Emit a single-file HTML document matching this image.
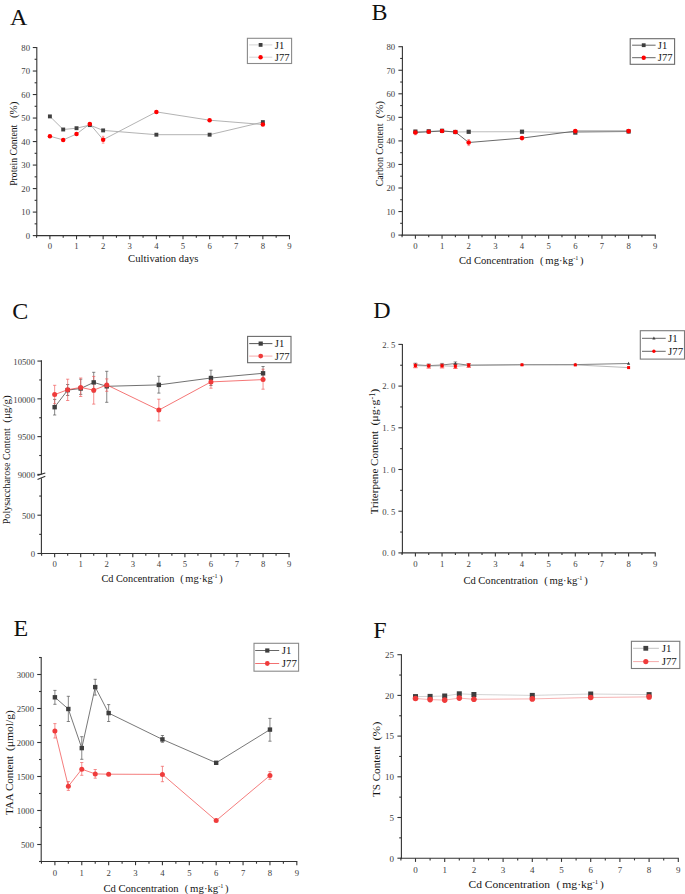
<!DOCTYPE html>
<html><head><meta charset="utf-8"><style>
html,body{margin:0;padding:0;background:#fff;}
body{width:685px;height:894px;overflow:hidden;font-family:"Liberation Serif",serif;}
svg{display:block;}
</style></head><body>
<svg width="685" height="894" viewBox="0 0 685 894" font-family="'Liberation Serif', serif">
<rect width="685" height="894" fill="#fff"/>
<text x="10.1" y="24.6" font-size="24" text-anchor="start" fill="#111" >A</text>
<line x1="36.09" y1="235.6" x2="289.98" y2="235.6" stroke="#333333" stroke-width="1.1" />
<line x1="49.9" y1="235.6" x2="49.9" y2="239.3" stroke="#333333" stroke-width="1.1" />
<text x="49.9" y="248.8" font-size="8.7" text-anchor="middle" fill="#404040" >0</text>
<line x1="76.52" y1="235.6" x2="76.52" y2="239.3" stroke="#333333" stroke-width="1.1" />
<text x="76.52" y="248.8" font-size="8.7" text-anchor="middle" fill="#404040" >1</text>
<line x1="103.14" y1="235.6" x2="103.14" y2="239.3" stroke="#333333" stroke-width="1.1" />
<text x="103.14" y="248.8" font-size="8.7" text-anchor="middle" fill="#404040" >2</text>
<line x1="129.76" y1="235.6" x2="129.76" y2="239.3" stroke="#333333" stroke-width="1.1" />
<text x="129.76" y="248.8" font-size="8.7" text-anchor="middle" fill="#404040" >3</text>
<line x1="156.38" y1="235.6" x2="156.38" y2="239.3" stroke="#333333" stroke-width="1.1" />
<text x="156.38" y="248.8" font-size="8.7" text-anchor="middle" fill="#404040" >4</text>
<line x1="183" y1="235.6" x2="183" y2="239.3" stroke="#333333" stroke-width="1.1" />
<text x="183" y="248.8" font-size="8.7" text-anchor="middle" fill="#404040" >5</text>
<line x1="209.62" y1="235.6" x2="209.62" y2="239.3" stroke="#333333" stroke-width="1.1" />
<text x="209.62" y="248.8" font-size="8.7" text-anchor="middle" fill="#404040" >6</text>
<line x1="236.24" y1="235.6" x2="236.24" y2="239.3" stroke="#333333" stroke-width="1.1" />
<text x="236.24" y="248.8" font-size="8.7" text-anchor="middle" fill="#404040" >7</text>
<line x1="262.86" y1="235.6" x2="262.86" y2="239.3" stroke="#333333" stroke-width="1.1" />
<text x="262.86" y="248.8" font-size="8.7" text-anchor="middle" fill="#404040" >8</text>
<line x1="289.48" y1="235.6" x2="289.48" y2="239.3" stroke="#333333" stroke-width="1.1" />
<text x="289.48" y="248.8" font-size="8.7" text-anchor="middle" fill="#404040" >9</text>
<line x1="36.59" y1="235.6" x2="36.59" y2="237.8" stroke="#333333" stroke-width="1.1" />
<line x1="63.21" y1="235.6" x2="63.21" y2="237.8" stroke="#333333" stroke-width="1.1" />
<line x1="89.83" y1="235.6" x2="89.83" y2="237.8" stroke="#333333" stroke-width="1.1" />
<line x1="116.45" y1="235.6" x2="116.45" y2="237.8" stroke="#333333" stroke-width="1.1" />
<line x1="143.07" y1="235.6" x2="143.07" y2="237.8" stroke="#333333" stroke-width="1.1" />
<line x1="169.69" y1="235.6" x2="169.69" y2="237.8" stroke="#333333" stroke-width="1.1" />
<line x1="196.31" y1="235.6" x2="196.31" y2="237.8" stroke="#333333" stroke-width="1.1" />
<line x1="222.93" y1="235.6" x2="222.93" y2="237.8" stroke="#333333" stroke-width="1.1" />
<line x1="249.55" y1="235.6" x2="249.55" y2="237.8" stroke="#333333" stroke-width="1.1" />
<line x1="276.17" y1="235.6" x2="276.17" y2="237.8" stroke="#333333" stroke-width="1.1" />
<line x1="36.8" y1="47.02" x2="36.8" y2="236.1" stroke="#333333" stroke-width="1.1" />
<line x1="32.8" y1="235.6" x2="36.8" y2="235.6" stroke="#333333" stroke-width="1.1" />
<text x="30" y="238.9" font-size="8.7" text-anchor="end" fill="#404040" >0</text>
<line x1="32.8" y1="212.09" x2="36.8" y2="212.09" stroke="#333333" stroke-width="1.1" />
<text x="30" y="215.39" font-size="8.7" text-anchor="end" fill="#404040" >10</text>
<line x1="32.8" y1="188.58" x2="36.8" y2="188.58" stroke="#333333" stroke-width="1.1" />
<text x="30" y="191.88" font-size="8.7" text-anchor="end" fill="#404040" >20</text>
<line x1="32.8" y1="165.07" x2="36.8" y2="165.07" stroke="#333333" stroke-width="1.1" />
<text x="30" y="168.37" font-size="8.7" text-anchor="end" fill="#404040" >30</text>
<line x1="32.8" y1="141.56" x2="36.8" y2="141.56" stroke="#333333" stroke-width="1.1" />
<text x="30" y="144.86" font-size="8.7" text-anchor="end" fill="#404040" >40</text>
<line x1="32.8" y1="118.05" x2="36.8" y2="118.05" stroke="#333333" stroke-width="1.1" />
<text x="30" y="121.35" font-size="8.7" text-anchor="end" fill="#404040" >50</text>
<line x1="32.8" y1="94.54" x2="36.8" y2="94.54" stroke="#333333" stroke-width="1.1" />
<text x="30" y="97.84" font-size="8.7" text-anchor="end" fill="#404040" >60</text>
<line x1="32.8" y1="71.03" x2="36.8" y2="71.03" stroke="#333333" stroke-width="1.1" />
<text x="30" y="74.33" font-size="8.7" text-anchor="end" fill="#404040" >70</text>
<line x1="32.8" y1="47.52" x2="36.8" y2="47.52" stroke="#333333" stroke-width="1.1" />
<text x="30" y="50.82" font-size="8.7" text-anchor="end" fill="#404040" >80</text>
<line x1="34.6" y1="223.84" x2="36.8" y2="223.84" stroke="#333333" stroke-width="1.1" />
<line x1="34.6" y1="200.33" x2="36.8" y2="200.33" stroke="#333333" stroke-width="1.1" />
<line x1="34.6" y1="176.82" x2="36.8" y2="176.82" stroke="#333333" stroke-width="1.1" />
<line x1="34.6" y1="153.31" x2="36.8" y2="153.31" stroke="#333333" stroke-width="1.1" />
<line x1="34.6" y1="129.81" x2="36.8" y2="129.81" stroke="#333333" stroke-width="1.1" />
<line x1="34.6" y1="106.29" x2="36.8" y2="106.29" stroke="#333333" stroke-width="1.1" />
<line x1="34.6" y1="82.78" x2="36.8" y2="82.78" stroke="#333333" stroke-width="1.1" />
<line x1="34.6" y1="59.28" x2="36.8" y2="59.28" stroke="#333333" stroke-width="1.1" />
<path d="M49.9 116.4 L63.21 129.5 L76.52 128.2 L89.83 125.1 L103.14 130.4 L156.38 134.7 L209.62 134.7 L262.86 122.1" fill="none" stroke="#aaaaaa" stroke-width="0.9"/>
<path d="M49.9 136.2 L63.21 139.9 L76.52 134 L89.83 123.9 L103.14 139.7 L156.38 111.9 L209.62 120.2 L262.86 124.5" fill="none" stroke="#aaaaaa" stroke-width="0.9"/>
<line x1="103.14" y1="136.3" x2="103.14" y2="143.2" stroke="#ff6060" stroke-width="0.6" />
<line x1="101.84" y1="136.3" x2="104.44" y2="136.3" stroke="#ff6060" stroke-width="0.6" />
<line x1="101.84" y1="143.2" x2="104.44" y2="143.2" stroke="#ff6060" stroke-width="0.6" />
<rect x="47.95" y="114.45" width="3.9" height="3.9" fill="#404040"/>
<rect x="61.26" y="127.55" width="3.9" height="3.9" fill="#404040"/>
<rect x="74.57" y="126.25" width="3.9" height="3.9" fill="#404040"/>
<rect x="87.88" y="123.15" width="3.9" height="3.9" fill="#404040"/>
<rect x="101.19" y="128.45" width="3.9" height="3.9" fill="#404040"/>
<rect x="154.43" y="132.75" width="3.9" height="3.9" fill="#404040"/>
<rect x="207.67" y="132.75" width="3.9" height="3.9" fill="#404040"/>
<rect x="260.91" y="120.15" width="3.9" height="3.9" fill="#404040"/>
<circle cx="49.9" cy="136.2" r="2.25" fill="#ff0000"/>
<circle cx="63.21" cy="139.9" r="2.25" fill="#ff0000"/>
<circle cx="76.52" cy="134" r="2.25" fill="#ff0000"/>
<circle cx="89.83" cy="123.9" r="2.25" fill="#ff0000"/>
<circle cx="103.14" cy="139.7" r="2.25" fill="#ff0000"/>
<circle cx="156.38" cy="111.9" r="2.25" fill="#ff0000"/>
<circle cx="209.62" cy="120.2" r="2.25" fill="#ff0000"/>
<circle cx="262.86" cy="124.5" r="2.25" fill="#ff0000"/>
<text x="0" y="0" font-size="10.4" fill="#141414" transform="translate(16.9,185.8) rotate(-90)" textLength="61" lengthAdjust="spacingAndGlyphs">Protein Content</text>
<text x="0" y="0" font-size="10.4" fill="#141414" transform="translate(16.9,118.1) rotate(-90)" textLength="16.4" lengthAdjust="spacingAndGlyphs">(%)</text>
<text x="128.1" y="261.8" font-size="10.6" fill="#141414" textLength="70.3" lengthAdjust="spacingAndGlyphs">Cultivation days</text>
<rect x="247.4" y="38.3" width="44.2" height="25.2" fill="#fff" stroke="#8a8a8a" stroke-width="1.1"/>
<line x1="249.2" y1="44.9" x2="272.3" y2="44.9" stroke="#cfcfcf" stroke-width="0.9" />
<rect x="258.7" y="43" width="3.8" height="3.8" fill="#3e3e3e"/>
<text x="274.8" y="48.5" font-size="10.6" text-anchor="start" fill="#141414" >J1</text>
<line x1="249.2" y1="57.2" x2="272.3" y2="57.2" stroke="#cfcfcf" stroke-width="0.9" />
<circle cx="260.6" cy="57.2" r="2.2" fill="#ff0000"/>
<text x="274.8" y="60.8" font-size="10.6" text-anchor="start" fill="#141414" >J77</text>
<text x="371.6" y="20.3" font-size="24" text-anchor="start" fill="#111" >B</text>
<line x1="401.57" y1="235.1" x2="655.75" y2="235.1" stroke="#333333" stroke-width="1.1" />
<line x1="415.4" y1="235.1" x2="415.4" y2="238.8" stroke="#333333" stroke-width="1.1" />
<text x="415.4" y="248.8" font-size="8.7" text-anchor="middle" fill="#404040" >0</text>
<line x1="442.05" y1="235.1" x2="442.05" y2="238.8" stroke="#333333" stroke-width="1.1" />
<text x="442.05" y="248.8" font-size="8.7" text-anchor="middle" fill="#404040" >1</text>
<line x1="468.7" y1="235.1" x2="468.7" y2="238.8" stroke="#333333" stroke-width="1.1" />
<text x="468.7" y="248.8" font-size="8.7" text-anchor="middle" fill="#404040" >2</text>
<line x1="495.35" y1="235.1" x2="495.35" y2="238.8" stroke="#333333" stroke-width="1.1" />
<text x="495.35" y="248.8" font-size="8.7" text-anchor="middle" fill="#404040" >3</text>
<line x1="522" y1="235.1" x2="522" y2="238.8" stroke="#333333" stroke-width="1.1" />
<text x="522" y="248.8" font-size="8.7" text-anchor="middle" fill="#404040" >4</text>
<line x1="548.65" y1="235.1" x2="548.65" y2="238.8" stroke="#333333" stroke-width="1.1" />
<text x="548.65" y="248.8" font-size="8.7" text-anchor="middle" fill="#404040" >5</text>
<line x1="575.3" y1="235.1" x2="575.3" y2="238.8" stroke="#333333" stroke-width="1.1" />
<text x="575.3" y="248.8" font-size="8.7" text-anchor="middle" fill="#404040" >6</text>
<line x1="601.95" y1="235.1" x2="601.95" y2="238.8" stroke="#333333" stroke-width="1.1" />
<text x="601.95" y="248.8" font-size="8.7" text-anchor="middle" fill="#404040" >7</text>
<line x1="628.6" y1="235.1" x2="628.6" y2="238.8" stroke="#333333" stroke-width="1.1" />
<text x="628.6" y="248.8" font-size="8.7" text-anchor="middle" fill="#404040" >8</text>
<line x1="655.25" y1="235.1" x2="655.25" y2="238.8" stroke="#333333" stroke-width="1.1" />
<text x="655.25" y="248.8" font-size="8.7" text-anchor="middle" fill="#404040" >9</text>
<line x1="402.07" y1="235.1" x2="402.07" y2="237.3" stroke="#333333" stroke-width="1.1" />
<line x1="428.72" y1="235.1" x2="428.72" y2="237.3" stroke="#333333" stroke-width="1.1" />
<line x1="455.38" y1="235.1" x2="455.38" y2="237.3" stroke="#333333" stroke-width="1.1" />
<line x1="482.02" y1="235.1" x2="482.02" y2="237.3" stroke="#333333" stroke-width="1.1" />
<line x1="508.67" y1="235.1" x2="508.67" y2="237.3" stroke="#333333" stroke-width="1.1" />
<line x1="535.32" y1="235.1" x2="535.32" y2="237.3" stroke="#333333" stroke-width="1.1" />
<line x1="561.97" y1="235.1" x2="561.97" y2="237.3" stroke="#333333" stroke-width="1.1" />
<line x1="588.62" y1="235.1" x2="588.62" y2="237.3" stroke="#333333" stroke-width="1.1" />
<line x1="615.27" y1="235.1" x2="615.27" y2="237.3" stroke="#333333" stroke-width="1.1" />
<line x1="641.92" y1="235.1" x2="641.92" y2="237.3" stroke="#333333" stroke-width="1.1" />
<line x1="402.4" y1="46.2" x2="402.4" y2="235.6" stroke="#333333" stroke-width="1.1" />
<line x1="398.4" y1="235.1" x2="402.4" y2="235.1" stroke="#333333" stroke-width="1.1" />
<text x="395.1" y="238.4" font-size="8.7" text-anchor="end" fill="#404040" >0</text>
<line x1="398.4" y1="211.55" x2="402.4" y2="211.55" stroke="#333333" stroke-width="1.1" />
<text x="395.1" y="214.85" font-size="8.7" text-anchor="end" fill="#404040" >10</text>
<line x1="398.4" y1="188" x2="402.4" y2="188" stroke="#333333" stroke-width="1.1" />
<text x="395.1" y="191.3" font-size="8.7" text-anchor="end" fill="#404040" >20</text>
<line x1="398.4" y1="164.45" x2="402.4" y2="164.45" stroke="#333333" stroke-width="1.1" />
<text x="395.1" y="167.75" font-size="8.7" text-anchor="end" fill="#404040" >30</text>
<line x1="398.4" y1="140.9" x2="402.4" y2="140.9" stroke="#333333" stroke-width="1.1" />
<text x="395.1" y="144.2" font-size="8.7" text-anchor="end" fill="#404040" >40</text>
<line x1="398.4" y1="117.35" x2="402.4" y2="117.35" stroke="#333333" stroke-width="1.1" />
<text x="395.1" y="120.65" font-size="8.7" text-anchor="end" fill="#404040" >50</text>
<line x1="398.4" y1="93.8" x2="402.4" y2="93.8" stroke="#333333" stroke-width="1.1" />
<text x="395.1" y="97.1" font-size="8.7" text-anchor="end" fill="#404040" >60</text>
<line x1="398.4" y1="70.25" x2="402.4" y2="70.25" stroke="#333333" stroke-width="1.1" />
<text x="395.1" y="73.55" font-size="8.7" text-anchor="end" fill="#404040" >70</text>
<line x1="398.4" y1="46.7" x2="402.4" y2="46.7" stroke="#333333" stroke-width="1.1" />
<text x="395.1" y="50" font-size="8.7" text-anchor="end" fill="#404040" >80</text>
<line x1="400.2" y1="223.32" x2="402.4" y2="223.32" stroke="#333333" stroke-width="1.1" />
<line x1="400.2" y1="199.77" x2="402.4" y2="199.77" stroke="#333333" stroke-width="1.1" />
<line x1="400.2" y1="176.22" x2="402.4" y2="176.22" stroke="#333333" stroke-width="1.1" />
<line x1="400.2" y1="152.68" x2="402.4" y2="152.68" stroke="#333333" stroke-width="1.1" />
<line x1="400.2" y1="129.12" x2="402.4" y2="129.12" stroke="#333333" stroke-width="1.1" />
<line x1="400.2" y1="105.57" x2="402.4" y2="105.57" stroke="#333333" stroke-width="1.1" />
<line x1="400.2" y1="82.03" x2="402.4" y2="82.03" stroke="#333333" stroke-width="1.1" />
<line x1="400.2" y1="58.47" x2="402.4" y2="58.47" stroke="#333333" stroke-width="1.1" />
<path d="M415.4 131.6 L428.72 131.3 L442.05 130.8 L455.38 132 L468.7 131.8 L522 131.7 L575.3 132.6 L628.6 131.5" fill="none" stroke="#bcbcbc" stroke-width="1.0"/>
<path d="M415.4 132.5 L428.72 131.8 L442.05 131 L455.38 132 L468.7 142.5 L522 138.1 L575.3 131.1 L628.6 131.1" fill="none" stroke="#5a5a5a" stroke-width="0.9"/>
<line x1="415.4" y1="130.2" x2="415.4" y2="134.8" stroke="#ff6060" stroke-width="0.6" />
<line x1="414.1" y1="130.2" x2="416.7" y2="130.2" stroke="#ff6060" stroke-width="0.6" />
<line x1="414.1" y1="134.8" x2="416.7" y2="134.8" stroke="#ff6060" stroke-width="0.6" />
<line x1="468.7" y1="139.5" x2="468.7" y2="145.6" stroke="#ff6060" stroke-width="0.6" />
<line x1="467.4" y1="139.5" x2="470" y2="139.5" stroke="#ff6060" stroke-width="0.6" />
<line x1="467.4" y1="145.6" x2="470" y2="145.6" stroke="#ff6060" stroke-width="0.6" />
<rect x="413.3" y="129.5" width="4.2" height="4.2" fill="#404040"/>
<rect x="426.62" y="129.2" width="4.2" height="4.2" fill="#404040"/>
<rect x="439.95" y="128.7" width="4.2" height="4.2" fill="#404040"/>
<rect x="453.27" y="129.9" width="4.2" height="4.2" fill="#404040"/>
<rect x="466.6" y="129.7" width="4.2" height="4.2" fill="#404040"/>
<rect x="519.9" y="129.6" width="4.2" height="4.2" fill="#404040"/>
<rect x="573.2" y="130.5" width="4.2" height="4.2" fill="#404040"/>
<rect x="626.5" y="129.4" width="4.2" height="4.2" fill="#404040"/>
<circle cx="415.4" cy="132.5" r="2.3" fill="#ff0000"/>
<circle cx="428.72" cy="131.8" r="2.3" fill="#ff0000"/>
<circle cx="442.05" cy="131" r="2.3" fill="#ff0000"/>
<circle cx="455.38" cy="132" r="2.3" fill="#ff0000"/>
<circle cx="468.7" cy="142.5" r="2.3" fill="#ff0000"/>
<circle cx="522" cy="138.1" r="2.3" fill="#ff0000"/>
<circle cx="575.3" cy="131.1" r="2.3" fill="#ff0000"/>
<circle cx="628.6" cy="131.1" r="2.3" fill="#ff0000"/>
<text x="0" y="0" font-size="10.4" fill="#141414" transform="translate(382.7,186.2) rotate(-90)" textLength="62.7" lengthAdjust="spacingAndGlyphs">Carbon Content</text>
<text x="0" y="0" font-size="10.4" fill="#141414" transform="translate(382.7,118.2) rotate(-90)" textLength="17.4" lengthAdjust="spacingAndGlyphs">(%)</text>
<text x="459" y="263.9" font-size="10.5" fill="#141414" textLength="74.9" lengthAdjust="spacingAndGlyphs">Cd Concentration</text>
<text x="540" y="263.9" font-size="10.5" fill="#141414">(</text>
<text x="545.3" y="263.9" font-size="10.5" fill="#141414" textLength="28" lengthAdjust="spacingAndGlyphs">mg·kg</text>
<text x="573.2" y="260.2" font-size="6.2" fill="#141414">-1</text>
<text x="580.1" y="263.9" font-size="10.5" fill="#141414">)</text>
<rect x="630.2" y="38.7" width="44.4" height="25.6" fill="#fff" stroke="#6a6a6a" stroke-width="1.1"/>
<line x1="632.1" y1="45.2" x2="655.6" y2="45.2" stroke="#555" stroke-width="0.9" />
<rect x="641.8" y="43.3" width="3.8" height="3.8" fill="#3e3e3e"/>
<text x="657.8" y="48.8" font-size="10.6" text-anchor="start" fill="#141414" >J1</text>
<line x1="632.1" y1="57.7" x2="655.6" y2="57.7" stroke="#555" stroke-width="0.9" />
<circle cx="643.7" cy="57.7" r="2.2" fill="#ff0000"/>
<text x="657.8" y="61.3" font-size="10.6" text-anchor="start" fill="#141414" >J77</text>
<text x="12.2" y="319.1" font-size="24" text-anchor="start" fill="#111" >C</text>
<line x1="41.12" y1="553.5" x2="289.6" y2="553.5" stroke="#333333" stroke-width="1.1" />
<line x1="54.65" y1="553.5" x2="54.65" y2="557.2" stroke="#333333" stroke-width="1.1" />
<text x="54.65" y="566.7" font-size="8.7" text-anchor="middle" fill="#404040" >0</text>
<line x1="80.7" y1="553.5" x2="80.7" y2="557.2" stroke="#333333" stroke-width="1.1" />
<text x="80.7" y="566.7" font-size="8.7" text-anchor="middle" fill="#404040" >1</text>
<line x1="106.75" y1="553.5" x2="106.75" y2="557.2" stroke="#333333" stroke-width="1.1" />
<text x="106.75" y="566.7" font-size="8.7" text-anchor="middle" fill="#404040" >2</text>
<line x1="132.8" y1="553.5" x2="132.8" y2="557.2" stroke="#333333" stroke-width="1.1" />
<text x="132.8" y="566.7" font-size="8.7" text-anchor="middle" fill="#404040" >3</text>
<line x1="158.85" y1="553.5" x2="158.85" y2="557.2" stroke="#333333" stroke-width="1.1" />
<text x="158.85" y="566.7" font-size="8.7" text-anchor="middle" fill="#404040" >4</text>
<line x1="184.9" y1="553.5" x2="184.9" y2="557.2" stroke="#333333" stroke-width="1.1" />
<text x="184.9" y="566.7" font-size="8.7" text-anchor="middle" fill="#404040" >5</text>
<line x1="210.95" y1="553.5" x2="210.95" y2="557.2" stroke="#333333" stroke-width="1.1" />
<text x="210.95" y="566.7" font-size="8.7" text-anchor="middle" fill="#404040" >6</text>
<line x1="237" y1="553.5" x2="237" y2="557.2" stroke="#333333" stroke-width="1.1" />
<text x="237" y="566.7" font-size="8.7" text-anchor="middle" fill="#404040" >7</text>
<line x1="263.05" y1="553.5" x2="263.05" y2="557.2" stroke="#333333" stroke-width="1.1" />
<text x="263.05" y="566.7" font-size="8.7" text-anchor="middle" fill="#404040" >8</text>
<line x1="289.1" y1="553.5" x2="289.1" y2="557.2" stroke="#333333" stroke-width="1.1" />
<text x="289.1" y="566.7" font-size="8.7" text-anchor="middle" fill="#404040" >9</text>
<line x1="41.62" y1="553.5" x2="41.62" y2="555.7" stroke="#333333" stroke-width="1.1" />
<line x1="67.67" y1="553.5" x2="67.67" y2="555.7" stroke="#333333" stroke-width="1.1" />
<line x1="93.72" y1="553.5" x2="93.72" y2="555.7" stroke="#333333" stroke-width="1.1" />
<line x1="119.78" y1="553.5" x2="119.78" y2="555.7" stroke="#333333" stroke-width="1.1" />
<line x1="145.82" y1="553.5" x2="145.82" y2="555.7" stroke="#333333" stroke-width="1.1" />
<line x1="171.88" y1="553.5" x2="171.88" y2="555.7" stroke="#333333" stroke-width="1.1" />
<line x1="197.93" y1="553.5" x2="197.93" y2="555.7" stroke="#333333" stroke-width="1.1" />
<line x1="223.98" y1="553.5" x2="223.98" y2="555.7" stroke="#333333" stroke-width="1.1" />
<line x1="250.03" y1="553.5" x2="250.03" y2="555.7" stroke="#333333" stroke-width="1.1" />
<line x1="276.07" y1="553.5" x2="276.07" y2="555.7" stroke="#333333" stroke-width="1.1" />
<line x1="41.4" y1="360.6" x2="41.4" y2="361.6" stroke="#333333" stroke-width="1.1" />
<line x1="37.4" y1="474.4" x2="41.4" y2="474.4" stroke="#333333" stroke-width="1.1" />
<text x="35" y="478.1" font-size="8.7" text-anchor="end" fill="#404040" >9000</text>
<line x1="37.4" y1="436.62" x2="41.4" y2="436.62" stroke="#333333" stroke-width="1.1" />
<text x="35" y="440.32" font-size="8.7" text-anchor="end" fill="#404040" >9500</text>
<line x1="37.4" y1="398.85" x2="41.4" y2="398.85" stroke="#333333" stroke-width="1.1" />
<text x="35" y="402.55" font-size="8.7" text-anchor="end" fill="#404040" >10000</text>
<line x1="37.4" y1="361.07" x2="41.4" y2="361.07" stroke="#333333" stroke-width="1.1" />
<text x="35" y="364.77" font-size="8.7" text-anchor="end" fill="#404040" >10500</text>
<line x1="37.4" y1="553.5" x2="41.4" y2="553.5" stroke="#333333" stroke-width="1.1" />
<text x="35" y="557.2" font-size="8.7" text-anchor="end" fill="#404040" >0</text>
<line x1="37.4" y1="515.2" x2="41.4" y2="515.2" stroke="#333333" stroke-width="1.1" />
<text x="35" y="518.9" font-size="8.7" text-anchor="end" fill="#404040" >500</text>
<line x1="39.2" y1="455.51" x2="41.4" y2="455.51" stroke="#333333" stroke-width="1.1" />
<line x1="39.2" y1="417.74" x2="41.4" y2="417.74" stroke="#333333" stroke-width="1.1" />
<line x1="39.2" y1="379.96" x2="41.4" y2="379.96" stroke="#333333" stroke-width="1.1" />
<line x1="39.2" y1="534.35" x2="41.4" y2="534.35" stroke="#333333" stroke-width="1.1" />
<line x1="39.2" y1="496.05" x2="41.4" y2="496.05" stroke="#333333" stroke-width="1.1" />
<line x1="41.4" y1="360.6" x2="41.4" y2="473.9" stroke="#333333" stroke-width="1.1" />
<line x1="41.4" y1="478.3" x2="41.4" y2="554" stroke="#333333" stroke-width="1.1" />
<line x1="37.5" y1="475.4" x2="45.3" y2="473" stroke="#333333" stroke-width="1.1" />
<line x1="37.5" y1="479.6" x2="45.3" y2="476.3" stroke="#333333" stroke-width="1.1" />
<line x1="54.65" y1="399.4" x2="54.65" y2="415" stroke="#555" stroke-width="0.7" />
<line x1="53.05" y1="399.4" x2="56.25" y2="399.4" stroke="#555" stroke-width="0.7" />
<line x1="53.05" y1="415" x2="56.25" y2="415" stroke="#555" stroke-width="0.7" />
<line x1="67.67" y1="384.5" x2="67.67" y2="395.5" stroke="#555" stroke-width="0.7" />
<line x1="66.08" y1="384.5" x2="69.27" y2="384.5" stroke="#555" stroke-width="0.7" />
<line x1="66.08" y1="395.5" x2="69.27" y2="395.5" stroke="#555" stroke-width="0.7" />
<line x1="80.7" y1="379.2" x2="80.7" y2="394.4" stroke="#555" stroke-width="0.7" />
<line x1="79.1" y1="379.2" x2="82.3" y2="379.2" stroke="#555" stroke-width="0.7" />
<line x1="79.1" y1="394.4" x2="82.3" y2="394.4" stroke="#555" stroke-width="0.7" />
<line x1="93.72" y1="372.3" x2="93.72" y2="392" stroke="#555" stroke-width="0.7" />
<line x1="92.12" y1="372.3" x2="95.32" y2="372.3" stroke="#555" stroke-width="0.7" />
<line x1="92.12" y1="392" x2="95.32" y2="392" stroke="#555" stroke-width="0.7" />
<line x1="106.75" y1="371.3" x2="106.75" y2="402.3" stroke="#555" stroke-width="0.7" />
<line x1="105.15" y1="371.3" x2="108.35" y2="371.3" stroke="#555" stroke-width="0.7" />
<line x1="105.15" y1="402.3" x2="108.35" y2="402.3" stroke="#555" stroke-width="0.7" />
<line x1="158.85" y1="376.3" x2="158.85" y2="393.1" stroke="#555" stroke-width="0.7" />
<line x1="157.25" y1="376.3" x2="160.45" y2="376.3" stroke="#555" stroke-width="0.7" />
<line x1="157.25" y1="393.1" x2="160.45" y2="393.1" stroke="#555" stroke-width="0.7" />
<line x1="210.95" y1="370.2" x2="210.95" y2="385.5" stroke="#555" stroke-width="0.7" />
<line x1="209.35" y1="370.2" x2="212.55" y2="370.2" stroke="#555" stroke-width="0.7" />
<line x1="209.35" y1="385.5" x2="212.55" y2="385.5" stroke="#555" stroke-width="0.7" />
<line x1="263.05" y1="366.5" x2="263.05" y2="380" stroke="#555" stroke-width="0.7" />
<line x1="261.45" y1="366.5" x2="264.65" y2="366.5" stroke="#555" stroke-width="0.7" />
<line x1="261.45" y1="380" x2="264.65" y2="380" stroke="#555" stroke-width="0.7" />
<line x1="54.65" y1="385.3" x2="54.65" y2="403.7" stroke="#f06060" stroke-width="0.7" />
<line x1="53.05" y1="385.3" x2="56.25" y2="385.3" stroke="#f06060" stroke-width="0.7" />
<line x1="53.05" y1="403.7" x2="56.25" y2="403.7" stroke="#f06060" stroke-width="0.7" />
<line x1="67.67" y1="379.2" x2="67.67" y2="400.5" stroke="#f06060" stroke-width="0.7" />
<line x1="66.08" y1="379.2" x2="69.27" y2="379.2" stroke="#f06060" stroke-width="0.7" />
<line x1="66.08" y1="400.5" x2="69.27" y2="400.5" stroke="#f06060" stroke-width="0.7" />
<line x1="80.7" y1="378" x2="80.7" y2="396.5" stroke="#f06060" stroke-width="0.7" />
<line x1="79.1" y1="378" x2="82.3" y2="378" stroke="#f06060" stroke-width="0.7" />
<line x1="79.1" y1="396.5" x2="82.3" y2="396.5" stroke="#f06060" stroke-width="0.7" />
<line x1="93.72" y1="376.4" x2="93.72" y2="404.1" stroke="#f06060" stroke-width="0.7" />
<line x1="92.12" y1="376.4" x2="95.32" y2="376.4" stroke="#f06060" stroke-width="0.7" />
<line x1="92.12" y1="404.1" x2="95.32" y2="404.1" stroke="#f06060" stroke-width="0.7" />
<line x1="106.75" y1="378.9" x2="106.75" y2="391.3" stroke="#f06060" stroke-width="0.7" />
<line x1="105.15" y1="378.9" x2="108.35" y2="378.9" stroke="#f06060" stroke-width="0.7" />
<line x1="105.15" y1="391.3" x2="108.35" y2="391.3" stroke="#f06060" stroke-width="0.7" />
<line x1="158.85" y1="399.2" x2="158.85" y2="420.9" stroke="#f06060" stroke-width="0.7" />
<line x1="157.25" y1="399.2" x2="160.45" y2="399.2" stroke="#f06060" stroke-width="0.7" />
<line x1="157.25" y1="420.9" x2="160.45" y2="420.9" stroke="#f06060" stroke-width="0.7" />
<line x1="210.95" y1="379.8" x2="210.95" y2="388.2" stroke="#f06060" stroke-width="0.7" />
<line x1="209.35" y1="379.8" x2="212.55" y2="379.8" stroke="#f06060" stroke-width="0.7" />
<line x1="209.35" y1="388.2" x2="212.55" y2="388.2" stroke="#f06060" stroke-width="0.7" />
<line x1="263.05" y1="369.2" x2="263.05" y2="389.2" stroke="#f06060" stroke-width="0.7" />
<line x1="261.45" y1="369.2" x2="264.65" y2="369.2" stroke="#f06060" stroke-width="0.7" />
<line x1="261.45" y1="389.2" x2="264.65" y2="389.2" stroke="#f06060" stroke-width="0.7" />
<path d="M54.65 407.2 L67.67 390.1 L80.7 388.5 L93.72 382.4 L106.75 386.3 L158.85 384.9 L210.95 378 L263.05 373.3" fill="none" stroke="#333" stroke-width="0.7"/>
<path d="M54.65 394.6 L67.67 389.7 L80.7 387.4 L93.72 390.2 L106.75 384.9 L158.85 410.1 L210.95 381.9 L263.05 379.6" fill="none" stroke="#ef3b3b" stroke-width="0.7"/>
<rect x="52.45" y="405" width="4.4" height="4.4" fill="#3e3e3e"/>
<rect x="65.47" y="387.9" width="4.4" height="4.4" fill="#3e3e3e"/>
<rect x="78.5" y="386.3" width="4.4" height="4.4" fill="#3e3e3e"/>
<rect x="91.52" y="380.2" width="4.4" height="4.4" fill="#3e3e3e"/>
<rect x="104.55" y="384.1" width="4.4" height="4.4" fill="#3e3e3e"/>
<rect x="156.65" y="382.7" width="4.4" height="4.4" fill="#3e3e3e"/>
<rect x="208.75" y="375.8" width="4.4" height="4.4" fill="#3e3e3e"/>
<rect x="260.85" y="371.1" width="4.4" height="4.4" fill="#3e3e3e"/>
<circle cx="54.65" cy="394.6" r="2.5" fill="#ef3b3b"/>
<circle cx="67.67" cy="389.7" r="2.5" fill="#ef3b3b"/>
<circle cx="80.7" cy="387.4" r="2.5" fill="#ef3b3b"/>
<circle cx="93.72" cy="390.2" r="2.5" fill="#ef3b3b"/>
<circle cx="106.75" cy="384.9" r="2.5" fill="#ef3b3b"/>
<circle cx="158.85" cy="410.1" r="2.5" fill="#ef3b3b"/>
<circle cx="210.95" cy="381.9" r="2.5" fill="#ef3b3b"/>
<circle cx="263.05" cy="379.6" r="2.5" fill="#ef3b3b"/>
<text x="0" y="0" font-size="10.8" fill="#141414" transform="translate(9.9,524.2) rotate(-90)" textLength="96" lengthAdjust="spacingAndGlyphs">Polysaccharose Content</text>
<text x="0" y="0" font-size="10.8" fill="#141414" transform="translate(9.9,422.8) rotate(-90)" textLength="27.5" lengthAdjust="spacingAndGlyphs">(μg/g)</text>
<text x="101.41" y="581.7" font-size="10.22" fill="#141414" textLength="72.88" lengthAdjust="spacingAndGlyphs">Cd Concentration</text>
<text x="180.22" y="581.7" font-size="10.22" fill="#141414">(</text>
<text x="185.38" y="581.7" font-size="10.22" fill="#141414" textLength="27.24" lengthAdjust="spacingAndGlyphs">mg·kg</text>
<text x="212.53" y="578.1" font-size="6.03" fill="#141414">-1</text>
<text x="219.24" y="581.7" font-size="10.22" fill="#141414">)</text>
<rect x="247.6" y="336.4" width="43.4" height="26.3" fill="#fff" stroke="#6a6a6a" stroke-width="1.1"/>
<line x1="249.2" y1="343.6" x2="272.4" y2="343.6" stroke="#444" stroke-width="0.9" />
<rect x="258.6" y="341.5" width="4.2" height="4.2" fill="#3e3e3e"/>
<text x="274.8" y="347.2" font-size="10.6" text-anchor="start" fill="#141414" >J1</text>
<line x1="249.2" y1="356.1" x2="272.4" y2="356.1" stroke="#f4a0a0" stroke-width="0.9" />
<circle cx="260.7" cy="356.1" r="2.4" fill="#ef3b3b"/>
<text x="274.8" y="359.7" font-size="10.6" text-anchor="start" fill="#141414" >J77</text>
<text x="373.2" y="318.2" font-size="24" text-anchor="start" fill="#111" >D</text>
<line x1="401.57" y1="552.9" x2="655.75" y2="552.9" stroke="#333333" stroke-width="1.1" />
<line x1="415.4" y1="552.9" x2="415.4" y2="556.6" stroke="#333333" stroke-width="1.1" />
<text x="415.4" y="567.3" font-size="8.7" text-anchor="middle" fill="#404040" >0</text>
<line x1="442.05" y1="552.9" x2="442.05" y2="556.6" stroke="#333333" stroke-width="1.1" />
<text x="442.05" y="567.3" font-size="8.7" text-anchor="middle" fill="#404040" >1</text>
<line x1="468.7" y1="552.9" x2="468.7" y2="556.6" stroke="#333333" stroke-width="1.1" />
<text x="468.7" y="567.3" font-size="8.7" text-anchor="middle" fill="#404040" >2</text>
<line x1="495.35" y1="552.9" x2="495.35" y2="556.6" stroke="#333333" stroke-width="1.1" />
<text x="495.35" y="567.3" font-size="8.7" text-anchor="middle" fill="#404040" >3</text>
<line x1="522" y1="552.9" x2="522" y2="556.6" stroke="#333333" stroke-width="1.1" />
<text x="522" y="567.3" font-size="8.7" text-anchor="middle" fill="#404040" >4</text>
<line x1="548.65" y1="552.9" x2="548.65" y2="556.6" stroke="#333333" stroke-width="1.1" />
<text x="548.65" y="567.3" font-size="8.7" text-anchor="middle" fill="#404040" >5</text>
<line x1="575.3" y1="552.9" x2="575.3" y2="556.6" stroke="#333333" stroke-width="1.1" />
<text x="575.3" y="567.3" font-size="8.7" text-anchor="middle" fill="#404040" >6</text>
<line x1="601.95" y1="552.9" x2="601.95" y2="556.6" stroke="#333333" stroke-width="1.1" />
<text x="601.95" y="567.3" font-size="8.7" text-anchor="middle" fill="#404040" >7</text>
<line x1="628.6" y1="552.9" x2="628.6" y2="556.6" stroke="#333333" stroke-width="1.1" />
<text x="628.6" y="567.3" font-size="8.7" text-anchor="middle" fill="#404040" >8</text>
<line x1="655.25" y1="552.9" x2="655.25" y2="556.6" stroke="#333333" stroke-width="1.1" />
<text x="655.25" y="567.3" font-size="8.7" text-anchor="middle" fill="#404040" >9</text>
<line x1="402.07" y1="552.9" x2="402.07" y2="555.1" stroke="#333333" stroke-width="1.1" />
<line x1="428.72" y1="552.9" x2="428.72" y2="555.1" stroke="#333333" stroke-width="1.1" />
<line x1="455.38" y1="552.9" x2="455.38" y2="555.1" stroke="#333333" stroke-width="1.1" />
<line x1="482.02" y1="552.9" x2="482.02" y2="555.1" stroke="#333333" stroke-width="1.1" />
<line x1="508.67" y1="552.9" x2="508.67" y2="555.1" stroke="#333333" stroke-width="1.1" />
<line x1="535.32" y1="552.9" x2="535.32" y2="555.1" stroke="#333333" stroke-width="1.1" />
<line x1="561.97" y1="552.9" x2="561.97" y2="555.1" stroke="#333333" stroke-width="1.1" />
<line x1="588.62" y1="552.9" x2="588.62" y2="555.1" stroke="#333333" stroke-width="1.1" />
<line x1="615.27" y1="552.9" x2="615.27" y2="555.1" stroke="#333333" stroke-width="1.1" />
<line x1="641.92" y1="552.9" x2="641.92" y2="555.1" stroke="#333333" stroke-width="1.1" />
<line x1="402.4" y1="343.9" x2="402.4" y2="553.4" stroke="#333333" stroke-width="1.1" />
<line x1="398.4" y1="552.9" x2="402.4" y2="552.9" stroke="#333333" stroke-width="1.1" />
<text x="395.4" y="556.2" font-size="8.7" text-anchor="end" fill="#404040" >0. 0</text>
<line x1="398.4" y1="511.2" x2="402.4" y2="511.2" stroke="#333333" stroke-width="1.1" />
<text x="395.4" y="514.5" font-size="8.7" text-anchor="end" fill="#404040" >0. 5</text>
<line x1="398.4" y1="469.5" x2="402.4" y2="469.5" stroke="#333333" stroke-width="1.1" />
<text x="395.4" y="472.8" font-size="8.7" text-anchor="end" fill="#404040" >1. 0</text>
<line x1="398.4" y1="427.8" x2="402.4" y2="427.8" stroke="#333333" stroke-width="1.1" />
<text x="395.4" y="431.1" font-size="8.7" text-anchor="end" fill="#404040" >1. 5</text>
<line x1="398.4" y1="386.1" x2="402.4" y2="386.1" stroke="#333333" stroke-width="1.1" />
<text x="395.4" y="389.4" font-size="8.7" text-anchor="end" fill="#404040" >2. 0</text>
<line x1="398.4" y1="344.4" x2="402.4" y2="344.4" stroke="#333333" stroke-width="1.1" />
<text x="395.4" y="347.7" font-size="8.7" text-anchor="end" fill="#404040" >2. 5</text>
<line x1="400.2" y1="532.05" x2="402.4" y2="532.05" stroke="#333333" stroke-width="1.1" />
<line x1="400.2" y1="490.35" x2="402.4" y2="490.35" stroke="#333333" stroke-width="1.1" />
<line x1="400.2" y1="448.65" x2="402.4" y2="448.65" stroke="#333333" stroke-width="1.1" />
<line x1="400.2" y1="406.95" x2="402.4" y2="406.95" stroke="#333333" stroke-width="1.1" />
<line x1="400.2" y1="365.25" x2="402.4" y2="365.25" stroke="#333333" stroke-width="1.1" />
<path d="M415.4 364.8 L428.72 365.6 L442.05 365 L455.38 363.5 L468.7 365.2 L522 364.7 L575.3 364.6 L628.6 363.5" fill="none" stroke="#4a4a4a" stroke-width="0.7"/>
<path d="M415.4 365.6 L428.72 366 L442.05 365.8 L455.38 366.3 L468.7 365.3 L522 364.8 L575.3 364.9 L628.6 367.6" fill="none" stroke="#9a9a9a" stroke-width="0.7"/>
<line x1="415.4" y1="363.2" x2="415.4" y2="365.8" stroke="#555" stroke-width="0.6" />
<line x1="413.6" y1="363.2" x2="417.2" y2="363.2" stroke="#555" stroke-width="0.6" />
<line x1="413.6" y1="365.8" x2="417.2" y2="365.8" stroke="#555" stroke-width="0.6" />
<line x1="428.72" y1="364" x2="428.72" y2="366.6" stroke="#555" stroke-width="0.6" />
<line x1="426.92" y1="364" x2="430.52" y2="364" stroke="#555" stroke-width="0.6" />
<line x1="426.92" y1="366.6" x2="430.52" y2="366.6" stroke="#555" stroke-width="0.6" />
<line x1="442.05" y1="363.4" x2="442.05" y2="366" stroke="#555" stroke-width="0.6" />
<line x1="440.25" y1="363.4" x2="443.85" y2="363.4" stroke="#555" stroke-width="0.6" />
<line x1="440.25" y1="366" x2="443.85" y2="366" stroke="#555" stroke-width="0.6" />
<line x1="455.38" y1="361.9" x2="455.38" y2="364.5" stroke="#555" stroke-width="0.6" />
<line x1="453.57" y1="361.9" x2="457.18" y2="361.9" stroke="#555" stroke-width="0.6" />
<line x1="453.57" y1="364.5" x2="457.18" y2="364.5" stroke="#555" stroke-width="0.6" />
<line x1="468.7" y1="363.6" x2="468.7" y2="366.2" stroke="#555" stroke-width="0.6" />
<line x1="466.9" y1="363.6" x2="470.5" y2="363.6" stroke="#555" stroke-width="0.6" />
<line x1="466.9" y1="366.2" x2="470.5" y2="366.2" stroke="#555" stroke-width="0.6" />
<line x1="415.4" y1="364" x2="415.4" y2="367.7" stroke="#ff2020" stroke-width="0.7" />
<line x1="413.2" y1="364" x2="417.6" y2="364" stroke="#ff2020" stroke-width="0.7" />
<line x1="413.2" y1="367.7" x2="417.6" y2="367.7" stroke="#ff2020" stroke-width="0.7" />
<line x1="428.72" y1="364.4" x2="428.72" y2="368.1" stroke="#ff2020" stroke-width="0.7" />
<line x1="426.52" y1="364.4" x2="430.92" y2="364.4" stroke="#ff2020" stroke-width="0.7" />
<line x1="426.52" y1="368.1" x2="430.92" y2="368.1" stroke="#ff2020" stroke-width="0.7" />
<line x1="442.05" y1="364.2" x2="442.05" y2="367.9" stroke="#ff2020" stroke-width="0.7" />
<line x1="439.85" y1="364.2" x2="444.25" y2="364.2" stroke="#ff2020" stroke-width="0.7" />
<line x1="439.85" y1="367.9" x2="444.25" y2="367.9" stroke="#ff2020" stroke-width="0.7" />
<line x1="455.38" y1="364.7" x2="455.38" y2="368.4" stroke="#ff2020" stroke-width="0.7" />
<line x1="453.18" y1="364.7" x2="457.57" y2="364.7" stroke="#ff2020" stroke-width="0.7" />
<line x1="453.18" y1="368.4" x2="457.57" y2="368.4" stroke="#ff2020" stroke-width="0.7" />
<line x1="468.7" y1="363.7" x2="468.7" y2="367.4" stroke="#ff2020" stroke-width="0.7" />
<line x1="466.5" y1="363.7" x2="470.9" y2="363.7" stroke="#ff2020" stroke-width="0.7" />
<line x1="466.5" y1="367.4" x2="470.9" y2="367.4" stroke="#ff2020" stroke-width="0.7" />
<path d="M415.4 363.07 L417 365.95 L413.8 365.95 Z" fill="#3e3e3e"/>
<path d="M428.72 363.87 L430.32 366.75 L427.12 366.75 Z" fill="#3e3e3e"/>
<path d="M442.05 363.27 L443.65 366.15 L440.45 366.15 Z" fill="#3e3e3e"/>
<path d="M455.38 361.77 L456.98 364.65 L453.77 364.65 Z" fill="#3e3e3e"/>
<path d="M468.7 363.47 L470.3 366.35 L467.1 366.35 Z" fill="#3e3e3e"/>
<path d="M522 362.97 L523.6 365.85 L520.4 365.85 Z" fill="#3e3e3e"/>
<path d="M575.3 362.87 L576.9 365.75 L573.7 365.75 Z" fill="#3e3e3e"/>
<path d="M628.6 361.77 L630.2 364.65 L627 364.65 Z" fill="#3e3e3e"/>
<rect x="413.9" y="364.1" width="3" height="3" fill="#ff0000"/>
<rect x="427.22" y="364.5" width="3" height="3" fill="#ff0000"/>
<rect x="440.55" y="364.3" width="3" height="3" fill="#ff0000"/>
<rect x="453.88" y="364.8" width="3" height="3" fill="#ff0000"/>
<rect x="467.2" y="363.8" width="3" height="3" fill="#ff0000"/>
<rect x="520.5" y="363.3" width="3" height="3" fill="#ff0000"/>
<rect x="573.8" y="363.4" width="3" height="3" fill="#ff0000"/>
<rect x="627.1" y="366.1" width="3" height="3" fill="#ff0000"/>
<text x="0" y="0" font-size="11" fill="#141414" transform="translate(377.9,514.3) rotate(-90)" textLength="83.3" lengthAdjust="spacingAndGlyphs">Triterpene Content</text>
<text x="0" y="0" font-size="11" fill="#141414" transform="translate(377.9,425.6) rotate(-90)" textLength="36.7" lengthAdjust="spacingAndGlyphs">(μg·g<tspan font-size="7.4" dy="-3.4">-1</tspan><tspan dy="3.4">)</tspan></text>
<text x="463.4" y="583.6" font-size="10.47" fill="#141414" textLength="74.68" lengthAdjust="spacingAndGlyphs">Cd Concentration</text>
<text x="544.16" y="583.6" font-size="10.47" fill="#141414">(</text>
<text x="549.44" y="583.6" font-size="10.47" fill="#141414" textLength="27.92" lengthAdjust="spacingAndGlyphs">mg·kg</text>
<text x="577.26" y="579.91" font-size="6.18" fill="#141414">-1</text>
<text x="584.14" y="583.6" font-size="10.47" fill="#141414">)</text>
<rect x="640.3" y="330.7" width="44.2" height="28.4" fill="#fff" stroke="#7a7a7a" stroke-width="1.1"/>
<line x1="642" y1="338.3" x2="665.7" y2="338.3" stroke="#555" stroke-width="0.9" />
<path d="M653.9 336.57 L655.5 339.45 L652.3 339.45 Z" fill="#3e3e3e"/>
<text x="668.1" y="341.97" font-size="10.8" text-anchor="start" fill="#141414" >J1</text>
<line x1="642" y1="351.3" x2="665.7" y2="351.3" stroke="#555" stroke-width="0.9" />
<circle cx="653.9" cy="351.3" r="1.7" fill="#ff0000"/>
<text x="668.1" y="354.97" font-size="10.8" text-anchor="start" fill="#141414" >J77</text>
<text x="13.6" y="636.1" font-size="24" text-anchor="start" fill="#111" >E</text>
<line x1="40.96" y1="861.5" x2="297.32" y2="861.5" stroke="#333333" stroke-width="1.1" />
<line x1="54.9" y1="861.5" x2="54.9" y2="865.2" stroke="#333333" stroke-width="1.1" />
<text x="54.9" y="875.7" font-size="8.7" text-anchor="middle" fill="#404040" >0</text>
<line x1="81.78" y1="861.5" x2="81.78" y2="865.2" stroke="#333333" stroke-width="1.1" />
<text x="81.78" y="875.7" font-size="8.7" text-anchor="middle" fill="#404040" >1</text>
<line x1="108.66" y1="861.5" x2="108.66" y2="865.2" stroke="#333333" stroke-width="1.1" />
<text x="108.66" y="875.7" font-size="8.7" text-anchor="middle" fill="#404040" >2</text>
<line x1="135.54" y1="861.5" x2="135.54" y2="865.2" stroke="#333333" stroke-width="1.1" />
<text x="135.54" y="875.7" font-size="8.7" text-anchor="middle" fill="#404040" >3</text>
<line x1="162.42" y1="861.5" x2="162.42" y2="865.2" stroke="#333333" stroke-width="1.1" />
<text x="162.42" y="875.7" font-size="8.7" text-anchor="middle" fill="#404040" >4</text>
<line x1="189.3" y1="861.5" x2="189.3" y2="865.2" stroke="#333333" stroke-width="1.1" />
<text x="189.3" y="875.7" font-size="8.7" text-anchor="middle" fill="#404040" >5</text>
<line x1="216.18" y1="861.5" x2="216.18" y2="865.2" stroke="#333333" stroke-width="1.1" />
<text x="216.18" y="875.7" font-size="8.7" text-anchor="middle" fill="#404040" >6</text>
<line x1="243.06" y1="861.5" x2="243.06" y2="865.2" stroke="#333333" stroke-width="1.1" />
<text x="243.06" y="875.7" font-size="8.7" text-anchor="middle" fill="#404040" >7</text>
<line x1="269.94" y1="861.5" x2="269.94" y2="865.2" stroke="#333333" stroke-width="1.1" />
<text x="269.94" y="875.7" font-size="8.7" text-anchor="middle" fill="#404040" >8</text>
<line x1="296.82" y1="861.5" x2="296.82" y2="865.2" stroke="#333333" stroke-width="1.1" />
<text x="296.82" y="875.7" font-size="8.7" text-anchor="middle" fill="#404040" >9</text>
<line x1="41.46" y1="861.5" x2="41.46" y2="863.7" stroke="#333333" stroke-width="1.1" />
<line x1="68.34" y1="861.5" x2="68.34" y2="863.7" stroke="#333333" stroke-width="1.1" />
<line x1="95.22" y1="861.5" x2="95.22" y2="863.7" stroke="#333333" stroke-width="1.1" />
<line x1="122.1" y1="861.5" x2="122.1" y2="863.7" stroke="#333333" stroke-width="1.1" />
<line x1="148.98" y1="861.5" x2="148.98" y2="863.7" stroke="#333333" stroke-width="1.1" />
<line x1="175.86" y1="861.5" x2="175.86" y2="863.7" stroke="#333333" stroke-width="1.1" />
<line x1="202.74" y1="861.5" x2="202.74" y2="863.7" stroke="#333333" stroke-width="1.1" />
<line x1="229.62" y1="861.5" x2="229.62" y2="863.7" stroke="#333333" stroke-width="1.1" />
<line x1="256.5" y1="861.5" x2="256.5" y2="863.7" stroke="#333333" stroke-width="1.1" />
<line x1="283.38" y1="861.5" x2="283.38" y2="863.7" stroke="#333333" stroke-width="1.1" />
<line x1="41.2" y1="657" x2="41.2" y2="862" stroke="#333333" stroke-width="1.1" />
<line x1="37.2" y1="844.5" x2="41.2" y2="844.5" stroke="#333333" stroke-width="1.1" />
<text x="34" y="848.2" font-size="8.7" text-anchor="end" fill="#404040" >500</text>
<line x1="37.2" y1="810.5" x2="41.2" y2="810.5" stroke="#333333" stroke-width="1.1" />
<text x="34" y="814.2" font-size="8.7" text-anchor="end" fill="#404040" >1000</text>
<line x1="37.2" y1="776.5" x2="41.2" y2="776.5" stroke="#333333" stroke-width="1.1" />
<text x="34" y="780.2" font-size="8.7" text-anchor="end" fill="#404040" >1500</text>
<line x1="37.2" y1="742.5" x2="41.2" y2="742.5" stroke="#333333" stroke-width="1.1" />
<text x="34" y="746.2" font-size="8.7" text-anchor="end" fill="#404040" >2000</text>
<line x1="37.2" y1="708.5" x2="41.2" y2="708.5" stroke="#333333" stroke-width="1.1" />
<text x="34" y="712.2" font-size="8.7" text-anchor="end" fill="#404040" >2500</text>
<line x1="37.2" y1="674.5" x2="41.2" y2="674.5" stroke="#333333" stroke-width="1.1" />
<text x="34" y="678.2" font-size="8.7" text-anchor="end" fill="#404040" >3000</text>
<line x1="39" y1="827.5" x2="41.2" y2="827.5" stroke="#333333" stroke-width="1.1" />
<line x1="39" y1="793.5" x2="41.2" y2="793.5" stroke="#333333" stroke-width="1.1" />
<line x1="39" y1="759.5" x2="41.2" y2="759.5" stroke="#333333" stroke-width="1.1" />
<line x1="39" y1="725.5" x2="41.2" y2="725.5" stroke="#333333" stroke-width="1.1" />
<line x1="39" y1="691.5" x2="41.2" y2="691.5" stroke="#333333" stroke-width="1.1" />
<line x1="39" y1="657.5" x2="41.2" y2="657.5" stroke="#333333" stroke-width="1.1" />
<line x1="39" y1="861.5" x2="41.2" y2="861.5" stroke="#333333" stroke-width="1.1" />
<line x1="54.9" y1="690.4" x2="54.9" y2="704.3" stroke="#555" stroke-width="0.7" />
<line x1="53.3" y1="690.4" x2="56.5" y2="690.4" stroke="#555" stroke-width="0.7" />
<line x1="53.3" y1="704.3" x2="56.5" y2="704.3" stroke="#555" stroke-width="0.7" />
<line x1="68.34" y1="696.3" x2="68.34" y2="721.5" stroke="#555" stroke-width="0.7" />
<line x1="66.74" y1="696.3" x2="69.94" y2="696.3" stroke="#555" stroke-width="0.7" />
<line x1="66.74" y1="721.5" x2="69.94" y2="721.5" stroke="#555" stroke-width="0.7" />
<line x1="81.78" y1="736.7" x2="81.78" y2="759.3" stroke="#555" stroke-width="0.7" />
<line x1="80.18" y1="736.7" x2="83.38" y2="736.7" stroke="#555" stroke-width="0.7" />
<line x1="80.18" y1="759.3" x2="83.38" y2="759.3" stroke="#555" stroke-width="0.7" />
<line x1="95.22" y1="679.3" x2="95.22" y2="695.1" stroke="#555" stroke-width="0.7" />
<line x1="93.62" y1="679.3" x2="96.82" y2="679.3" stroke="#555" stroke-width="0.7" />
<line x1="93.62" y1="695.1" x2="96.82" y2="695.1" stroke="#555" stroke-width="0.7" />
<line x1="108.66" y1="704.6" x2="108.66" y2="721.5" stroke="#555" stroke-width="0.7" />
<line x1="107.06" y1="704.6" x2="110.26" y2="704.6" stroke="#555" stroke-width="0.7" />
<line x1="107.06" y1="721.5" x2="110.26" y2="721.5" stroke="#555" stroke-width="0.7" />
<line x1="162.42" y1="735.5" x2="162.42" y2="742.3" stroke="#555" stroke-width="0.7" />
<line x1="160.82" y1="735.5" x2="164.02" y2="735.5" stroke="#555" stroke-width="0.7" />
<line x1="160.82" y1="742.3" x2="164.02" y2="742.3" stroke="#555" stroke-width="0.7" />
<line x1="269.94" y1="718.4" x2="269.94" y2="741.2" stroke="#555" stroke-width="0.7" />
<line x1="268.34" y1="718.4" x2="271.54" y2="718.4" stroke="#555" stroke-width="0.7" />
<line x1="268.34" y1="741.2" x2="271.54" y2="741.2" stroke="#555" stroke-width="0.7" />
<line x1="54.9" y1="723.6" x2="54.9" y2="738" stroke="#f06060" stroke-width="0.7" />
<line x1="53.3" y1="723.6" x2="56.5" y2="723.6" stroke="#f06060" stroke-width="0.7" />
<line x1="53.3" y1="738" x2="56.5" y2="738" stroke="#f06060" stroke-width="0.7" />
<line x1="68.34" y1="781.6" x2="68.34" y2="790.4" stroke="#f06060" stroke-width="0.7" />
<line x1="66.74" y1="781.6" x2="69.94" y2="781.6" stroke="#f06060" stroke-width="0.7" />
<line x1="66.74" y1="790.4" x2="69.94" y2="790.4" stroke="#f06060" stroke-width="0.7" />
<line x1="81.78" y1="762.5" x2="81.78" y2="775.3" stroke="#f06060" stroke-width="0.7" />
<line x1="80.18" y1="762.5" x2="83.38" y2="762.5" stroke="#f06060" stroke-width="0.7" />
<line x1="80.18" y1="775.3" x2="83.38" y2="775.3" stroke="#f06060" stroke-width="0.7" />
<line x1="95.22" y1="769.5" x2="95.22" y2="778.2" stroke="#f06060" stroke-width="0.7" />
<line x1="93.62" y1="769.5" x2="96.82" y2="769.5" stroke="#f06060" stroke-width="0.7" />
<line x1="93.62" y1="778.2" x2="96.82" y2="778.2" stroke="#f06060" stroke-width="0.7" />
<line x1="162.42" y1="766.3" x2="162.42" y2="781.7" stroke="#f06060" stroke-width="0.7" />
<line x1="160.82" y1="766.3" x2="164.02" y2="766.3" stroke="#f06060" stroke-width="0.7" />
<line x1="160.82" y1="781.7" x2="164.02" y2="781.7" stroke="#f06060" stroke-width="0.7" />
<line x1="269.94" y1="771.6" x2="269.94" y2="779.3" stroke="#f06060" stroke-width="0.7" />
<line x1="268.34" y1="771.6" x2="271.54" y2="771.6" stroke="#f06060" stroke-width="0.7" />
<line x1="268.34" y1="779.3" x2="271.54" y2="779.3" stroke="#f06060" stroke-width="0.7" />
<path d="M54.9 697.3 L68.34 709 L81.78 748.1 L95.22 687.1 L108.66 713.1 L162.42 739.4 L216.18 762.8 L269.94 729.6" fill="none" stroke="#555" stroke-width="0.8"/>
<path d="M54.9 730.9 L68.34 786.3 L81.78 769.2 L95.22 773.9 L108.66 774.2 L162.42 774.4 L216.18 820.6 L269.94 775.5" fill="none" stroke="#ef4545" stroke-width="0.7"/>
<rect x="52.7" y="695.1" width="4.4" height="4.4" fill="#3e3e3e"/>
<rect x="66.14" y="706.8" width="4.4" height="4.4" fill="#3e3e3e"/>
<rect x="79.58" y="745.9" width="4.4" height="4.4" fill="#3e3e3e"/>
<rect x="93.02" y="684.9" width="4.4" height="4.4" fill="#3e3e3e"/>
<rect x="106.46" y="710.9" width="4.4" height="4.4" fill="#3e3e3e"/>
<rect x="160.22" y="737.2" width="4.4" height="4.4" fill="#3e3e3e"/>
<rect x="213.98" y="760.6" width="4.4" height="4.4" fill="#3e3e3e"/>
<rect x="267.74" y="727.4" width="4.4" height="4.4" fill="#3e3e3e"/>
<circle cx="54.9" cy="730.9" r="2.5" fill="#ef3b3b"/>
<circle cx="68.34" cy="786.3" r="2.5" fill="#ef3b3b"/>
<circle cx="81.78" cy="769.2" r="2.5" fill="#ef3b3b"/>
<circle cx="95.22" cy="773.9" r="2.5" fill="#ef3b3b"/>
<circle cx="108.66" cy="774.2" r="2.5" fill="#ef3b3b"/>
<circle cx="162.42" cy="774.4" r="2.5" fill="#ef3b3b"/>
<circle cx="216.18" cy="820.6" r="2.5" fill="#ef3b3b"/>
<circle cx="269.94" cy="775.5" r="2.5" fill="#ef3b3b"/>
<text x="0" y="0" font-size="11.2" fill="#141414" transform="translate(12.9,815.1) rotate(-90)" textLength="59.1" lengthAdjust="spacingAndGlyphs">TAA Content</text>
<text x="0" y="0" font-size="11.2" fill="#141414" transform="translate(12.9,751.1) rotate(-90)" textLength="41" lengthAdjust="spacingAndGlyphs">(μmol/g)</text>
<text x="103.4" y="891.5" font-size="10.55" fill="#141414" textLength="75.27" lengthAdjust="spacingAndGlyphs">Cd Concentration</text>
<text x="184.8" y="891.5" font-size="10.55" fill="#141414">(</text>
<text x="190.13" y="891.5" font-size="10.55" fill="#141414" textLength="28.14" lengthAdjust="spacingAndGlyphs">mg·kg</text>
<text x="218.17" y="887.78" font-size="6.23" fill="#141414">-1</text>
<text x="225.1" y="891.5" font-size="10.55" fill="#141414">)</text>
<rect x="254" y="643.3" width="44.6" height="27.9" fill="#fff" stroke="#8a8a8a" stroke-width="1.1"/>
<line x1="255.2" y1="650.5" x2="279.2" y2="650.5" stroke="#555" stroke-width="0.9" />
<rect x="265.2" y="648.4" width="4.2" height="4.2" fill="#3e3e3e"/>
<text x="281.8" y="654.17" font-size="10.8" text-anchor="start" fill="#141414" >J1</text>
<line x1="255.2" y1="663.5" x2="279.2" y2="663.5" stroke="#f06060" stroke-width="0.9" />
<circle cx="267.3" cy="663.5" r="2.4" fill="#ef3b3b"/>
<text x="281.8" y="667.17" font-size="10.8" text-anchor="start" fill="#141414" >J77</text>
<text x="373.3" y="637.7" font-size="24" text-anchor="start" fill="#111" >F</text>
<line x1="400.4" y1="858.2" x2="678.8" y2="858.2" stroke="#333333" stroke-width="1.1" />
<line x1="415.5" y1="858.2" x2="415.5" y2="861.9" stroke="#333333" stroke-width="1.1" />
<text x="415.5" y="873" font-size="9.0" text-anchor="middle" fill="#404040" >0</text>
<line x1="444.7" y1="858.2" x2="444.7" y2="861.9" stroke="#333333" stroke-width="1.1" />
<text x="444.7" y="873" font-size="9.0" text-anchor="middle" fill="#404040" >1</text>
<line x1="473.9" y1="858.2" x2="473.9" y2="861.9" stroke="#333333" stroke-width="1.1" />
<text x="473.9" y="873" font-size="9.0" text-anchor="middle" fill="#404040" >2</text>
<line x1="503.1" y1="858.2" x2="503.1" y2="861.9" stroke="#333333" stroke-width="1.1" />
<text x="503.1" y="873" font-size="9.0" text-anchor="middle" fill="#404040" >3</text>
<line x1="532.3" y1="858.2" x2="532.3" y2="861.9" stroke="#333333" stroke-width="1.1" />
<text x="532.3" y="873" font-size="9.0" text-anchor="middle" fill="#404040" >4</text>
<line x1="561.5" y1="858.2" x2="561.5" y2="861.9" stroke="#333333" stroke-width="1.1" />
<text x="561.5" y="873" font-size="9.0" text-anchor="middle" fill="#404040" >5</text>
<line x1="590.7" y1="858.2" x2="590.7" y2="861.9" stroke="#333333" stroke-width="1.1" />
<text x="590.7" y="873" font-size="9.0" text-anchor="middle" fill="#404040" >6</text>
<line x1="619.9" y1="858.2" x2="619.9" y2="861.9" stroke="#333333" stroke-width="1.1" />
<text x="619.9" y="873" font-size="9.0" text-anchor="middle" fill="#404040" >7</text>
<line x1="649.1" y1="858.2" x2="649.1" y2="861.9" stroke="#333333" stroke-width="1.1" />
<text x="649.1" y="873" font-size="9.0" text-anchor="middle" fill="#404040" >8</text>
<line x1="678.3" y1="858.2" x2="678.3" y2="861.9" stroke="#333333" stroke-width="1.1" />
<text x="678.3" y="873" font-size="9.0" text-anchor="middle" fill="#404040" >9</text>
<line x1="400.9" y1="858.2" x2="400.9" y2="860.4" stroke="#333333" stroke-width="1.1" />
<line x1="430.1" y1="858.2" x2="430.1" y2="860.4" stroke="#333333" stroke-width="1.1" />
<line x1="459.3" y1="858.2" x2="459.3" y2="860.4" stroke="#333333" stroke-width="1.1" />
<line x1="488.5" y1="858.2" x2="488.5" y2="860.4" stroke="#333333" stroke-width="1.1" />
<line x1="517.7" y1="858.2" x2="517.7" y2="860.4" stroke="#333333" stroke-width="1.1" />
<line x1="546.9" y1="858.2" x2="546.9" y2="860.4" stroke="#333333" stroke-width="1.1" />
<line x1="576.1" y1="858.2" x2="576.1" y2="860.4" stroke="#333333" stroke-width="1.1" />
<line x1="605.3" y1="858.2" x2="605.3" y2="860.4" stroke="#333333" stroke-width="1.1" />
<line x1="634.5" y1="858.2" x2="634.5" y2="860.4" stroke="#333333" stroke-width="1.1" />
<line x1="663.7" y1="858.2" x2="663.7" y2="860.4" stroke="#333333" stroke-width="1.1" />
<line x1="401.4" y1="654.2" x2="401.4" y2="858.7" stroke="#333333" stroke-width="1.1" />
<line x1="397.4" y1="858.2" x2="401.4" y2="858.2" stroke="#333333" stroke-width="1.1" />
<text x="394" y="861.5" font-size="9.0" text-anchor="end" fill="#404040" >0</text>
<line x1="397.4" y1="817.5" x2="401.4" y2="817.5" stroke="#333333" stroke-width="1.1" />
<text x="394" y="820.8" font-size="9.0" text-anchor="end" fill="#404040" >5</text>
<line x1="397.4" y1="776.8" x2="401.4" y2="776.8" stroke="#333333" stroke-width="1.1" />
<text x="394" y="780.1" font-size="9.0" text-anchor="end" fill="#404040" >10</text>
<line x1="397.4" y1="736.1" x2="401.4" y2="736.1" stroke="#333333" stroke-width="1.1" />
<text x="394" y="739.4" font-size="9.0" text-anchor="end" fill="#404040" >15</text>
<line x1="397.4" y1="695.4" x2="401.4" y2="695.4" stroke="#333333" stroke-width="1.1" />
<text x="394" y="698.7" font-size="9.0" text-anchor="end" fill="#404040" >20</text>
<line x1="397.4" y1="654.7" x2="401.4" y2="654.7" stroke="#333333" stroke-width="1.1" />
<text x="394" y="658" font-size="9.0" text-anchor="end" fill="#404040" >25</text>
<line x1="399.2" y1="837.85" x2="401.4" y2="837.85" stroke="#333333" stroke-width="1.1" />
<line x1="399.2" y1="797.15" x2="401.4" y2="797.15" stroke="#333333" stroke-width="1.1" />
<line x1="399.2" y1="756.45" x2="401.4" y2="756.45" stroke="#333333" stroke-width="1.1" />
<line x1="399.2" y1="715.75" x2="401.4" y2="715.75" stroke="#333333" stroke-width="1.1" />
<line x1="399.2" y1="675.05" x2="401.4" y2="675.05" stroke="#333333" stroke-width="1.1" />
<path d="M415.5 696.6 L430.1 696.4 L444.7 696 L459.3 693.8 L473.9 694.5 L532.3 695.4 L590.7 694 L649.1 694.6" fill="none" stroke="#c8c8c8" stroke-width="0.8"/>
<path d="M415.5 698.5 L430.1 699.6 L444.7 700.1 L459.3 698.1 L473.9 699.3 L532.3 698.9 L590.7 697.5 L649.1 696.9" fill="none" stroke="#f4a0a0" stroke-width="0.8"/>
<rect x="413" y="694.1" width="5" height="5" fill="#3e3e3e"/>
<rect x="427.6" y="693.9" width="5" height="5" fill="#3e3e3e"/>
<rect x="442.2" y="693.5" width="5" height="5" fill="#3e3e3e"/>
<rect x="456.8" y="691.3" width="5" height="5" fill="#3e3e3e"/>
<rect x="471.4" y="692" width="5" height="5" fill="#3e3e3e"/>
<rect x="529.8" y="692.9" width="5" height="5" fill="#3e3e3e"/>
<rect x="588.2" y="691.5" width="5" height="5" fill="#3e3e3e"/>
<rect x="646.6" y="692.1" width="5" height="5" fill="#3e3e3e"/>
<circle cx="415.5" cy="698.5" r="2.8" fill="#ef3b3b"/>
<circle cx="430.1" cy="699.6" r="2.8" fill="#ef3b3b"/>
<circle cx="444.7" cy="700.1" r="2.8" fill="#ef3b3b"/>
<circle cx="459.3" cy="698.1" r="2.8" fill="#ef3b3b"/>
<circle cx="473.9" cy="699.3" r="2.8" fill="#ef3b3b"/>
<circle cx="532.3" cy="698.9" r="2.8" fill="#ef3b3b"/>
<circle cx="590.7" cy="697.5" r="2.8" fill="#ef3b3b"/>
<circle cx="649.1" cy="696.9" r="2.8" fill="#ef3b3b"/>
<text x="0" y="0" font-size="11.2" fill="#141414" transform="translate(379.8,797.1) rotate(-90)" textLength="51" lengthAdjust="spacingAndGlyphs">TS Content</text>
<text x="0" y="0" font-size="11.2" fill="#141414" transform="translate(379.8,740.6) rotate(-90)" textLength="19" lengthAdjust="spacingAndGlyphs">(%)</text>
<text x="468.57" y="888.1" font-size="11.4" fill="#141414" textLength="81.34" lengthAdjust="spacingAndGlyphs">Cd Concentration</text>
<text x="556.53" y="888.1" font-size="11.4" fill="#141414">(</text>
<text x="562.29" y="888.1" font-size="11.4" fill="#141414" textLength="30.41" lengthAdjust="spacingAndGlyphs">mg·kg</text>
<text x="592.59" y="884.08" font-size="6.73" fill="#141414">-1</text>
<text x="600.08" y="888.1" font-size="11.4" fill="#141414">)</text>
<rect x="631.4" y="641.3" width="48.4" height="27.2" fill="#fff" stroke="#7a7a7a" stroke-width="1.1"/>
<line x1="633.1" y1="648.3" x2="658.9" y2="648.3" stroke="#bbb" stroke-width="0.9" />
<rect x="643.4" y="645.9" width="4.8" height="4.8" fill="#3e3e3e"/>
<text x="661.7" y="652.01" font-size="10.9" text-anchor="start" fill="#141414" >J1</text>
<line x1="633.1" y1="661.6" x2="658.9" y2="661.6" stroke="#f4a0a0" stroke-width="0.9" />
<circle cx="645.8" cy="661.6" r="2.6" fill="#ef3b3b"/>
<text x="661.7" y="665.31" font-size="10.9" text-anchor="start" fill="#141414" >J77</text>
</svg>
</body></html>
